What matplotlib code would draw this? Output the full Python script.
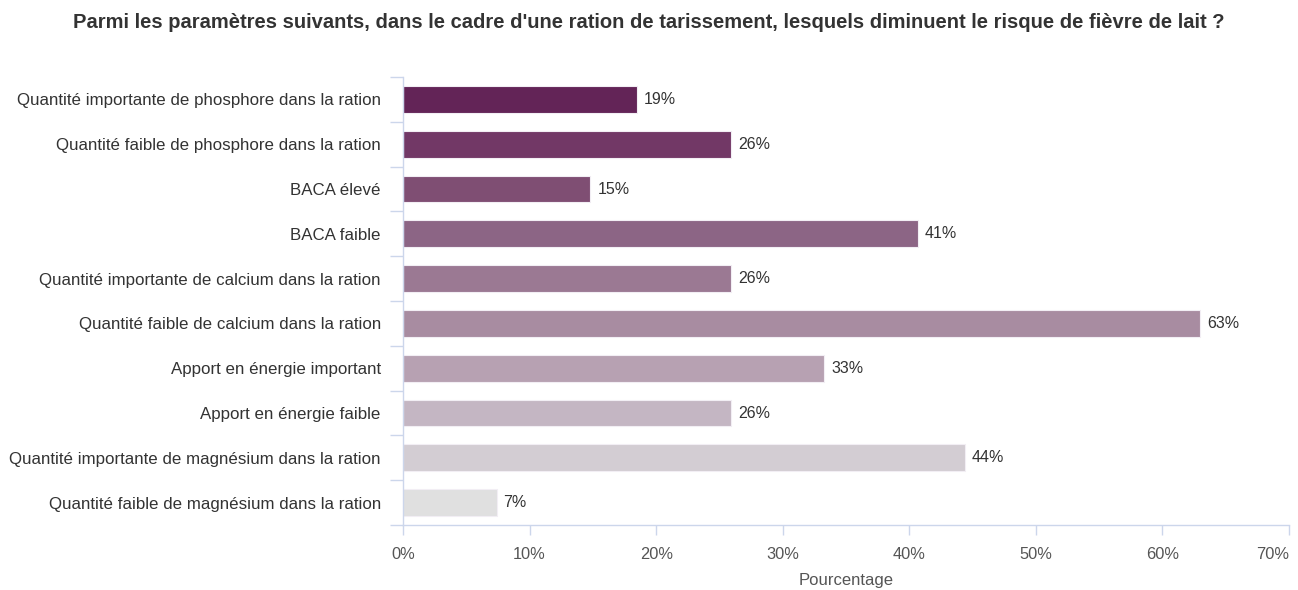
"""
Horizontal bar chart - fièvre de lait survey answers
"""

# Imports
import matplotlib
matplotlib.use("Agg")
import matplotlib.pyplot as plt
import matplotlib.ticker as ticker

# Define data
categories = [
    "Quantité importante de phosphore dans la ration",
    "Quantité faible de phosphore dans la ration",
    "BACA élevé",
    "BACA faible",
    "Quantité importante de calcium dans la ration",
    "Quantité faible de calcium dans la ration",
    "Apport en énergie important",
    "Apport en énergie faible",
    "Quantité importante de magnésium dans la ration",
    "Quantité faible de magnésium dans la ration",
]
percentages = [18.5, 25.9, 14.8, 40.7, 25.9, 63.0, 33.3, 25.9, 44.4, 7.4]
value_labels = ["19%", "26%", "15%", "41%", "26%", "63%", "33%", "26%", "44%", "7%"]
x_ticks = [0, 10, 20, 30, 40, 50, 60, 70]

# Bar colours, dark purple to light grey
bar_colors = ["#632457", "#723866", "#7f4e73", "#8c6585", "#9b7993",
              "#a88ca1", "#b7a1b2", "#c4b6c3", "#d3cdd3", "#e0e0e0"]

title = "Parmi les paramètres suivants, dans le cadre d'une ration de tarissement, lesquels diminuent le risque de fièvre de lait ?"

plt.rcParams["font.family"] = ["Liberation Sans", "DejaVu Sans"]

axis_color = "#ccd6eb"
text_color = "#333333"

# Prepare figure
fig = plt.figure(figsize=(12.98, 5.9), dpi=100)
ax = fig.add_axes([403 / 1298, 1 - 525 / 590, (1289 - 403) / 1298, (525 - 77) / 590])

positions = list(range(len(categories)))
ax.barh(positions, percentages, height=0.6, color=bar_colors,
        edgecolor="#f2eef4", linewidth=0.8, zorder=2)

# Value labels next to bars
for pos, val, lab in zip(positions, percentages, value_labels):
    ax.annotate(lab, xy=(val, pos), xytext=(5, 0), textcoords="offset points",
                va="center", ha="left", fontsize=11.5, color=text_color)

# Axes limits and ticks
ax.set_xlim(0, 70)
ax.set_ylim(len(categories) - 0.5, -0.5)
ax.set_xticks(x_ticks)
ax.xaxis.set_major_formatter(ticker.FuncFormatter(lambda v, p: f"{int(v)}%"))
ax.set_yticks(positions)
ax.set_yticklabels(categories)
ax.yaxis.set_minor_locator(ticker.FixedLocator([p - 0.5 for p in positions] + [len(categories) - 0.5]))

ax.tick_params(axis="y", which="major", length=0, pad=16, labelsize=12.2, labelcolor=text_color)
ax.tick_params(axis="y", which="minor", length=9.5, width=1, color=axis_color)
ax.tick_params(axis="x", which="major", length=7.5, width=1, color=axis_color,
               labelsize=11.8, labelcolor="#555555", pad=8)

# Keep last tick label inside the figure
ax.get_xticklabels()[-1].set_horizontalalignment("right")

# Spines
for side in ["top", "right"]:
    ax.spines[side].set_visible(False)
for side in ["left", "bottom"]:
    ax.spines[side].set_color(axis_color)
    ax.spines[side].set_linewidth(1)

# Label axes and graph
ax.set_xlabel("Pourcentage", fontsize=12, color="#555555", labelpad=8)
fig.suptitle(title, x=0.5, y=0.978, fontsize=14.5, fontweight="bold", color=text_color, va="top")

fig.savefig("out.png", dpi=100)
